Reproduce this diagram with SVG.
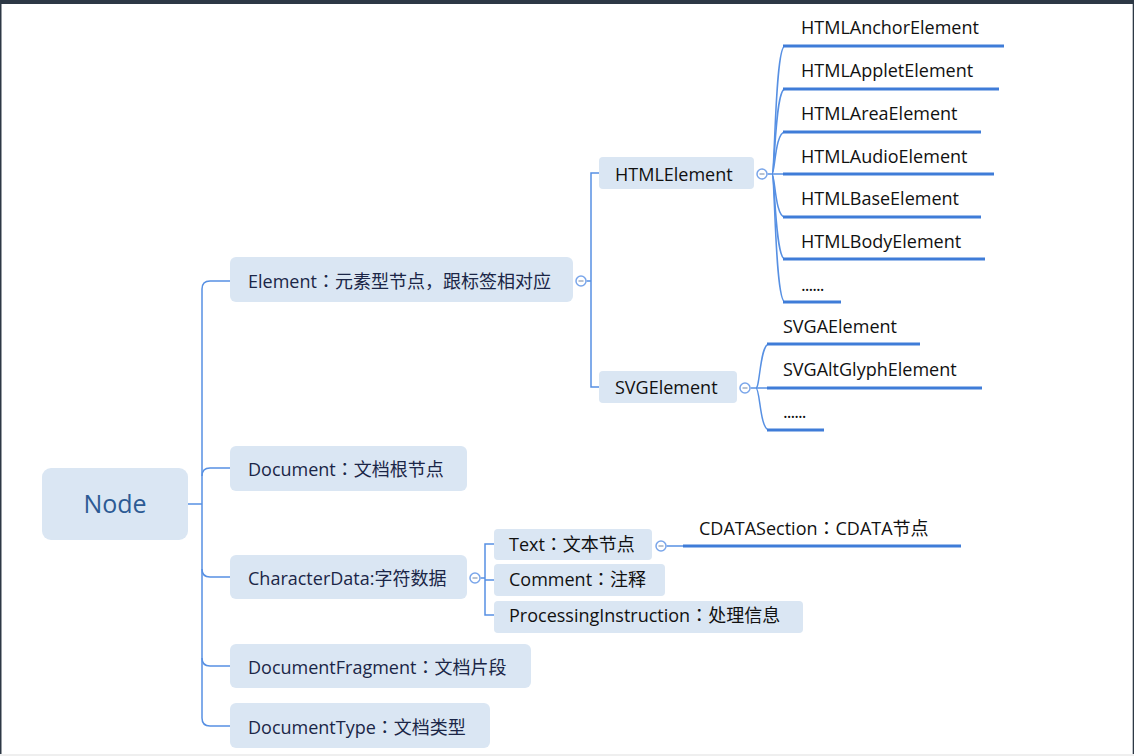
<svg xmlns="http://www.w3.org/2000/svg" width="1134" height="756" viewBox="0 0 1134 756">
<style>
.box{fill:#dae6f3}
.t{font-family:"Open Sans","Noto Sans CJK SC",sans-serif;font-size:18px;fill:#1b2647}
.c{font-family:"Open Sans","Noto Sans CJK SC",sans-serif;font-size:18px;fill:#111111}
.k{font-family:"Noto Sans CJK TC",sans-serif}
.ln{fill:none;stroke:#5790e3;stroke-width:1.5}
.ul{fill:none;stroke:#3f7cd8;stroke-width:3}
.col{fill:#fff;stroke:#7aa6ea;stroke-width:1.5}
.dash{stroke:#8a9bb3;stroke-width:1.2}
</style>
<rect x="0" y="0" width="1134" height="756" fill="#ffffff"/>
<rect x="0" y="0" width="1134" height="4" fill="#2d3845"/>
<rect x="0" y="0" width="1.5" height="756" fill="#2d3845"/>
<rect x="1132.7" y="0" width="1.3" height="756" fill="#2d3845"/>
<rect x="0" y="754" width="1134" height="2" fill="#efefef"/>

<g id="connectors">
  <path class="ln" d="M188,504 H202"/>
  <path class="ln" d="M230,281 H210 Q202,281 202,289 V718 Q202,726 210,726 H230"/>
  <path class="ln" d="M202,476 Q202,468 210,468 H230"/>
  <path class="ln" d="M202,569 Q202,577 210,577 H230"/>
  <path class="ln" d="M202,658 Q202,666 210,666 H230"/>
  <path class="ln" d="M586.5,281 H591 M599,173 H591 V387 H599"/>
  <path class="ln" d="M480.5,578 H485 M494,544 H485 V615 H494 M485,580 H494"/>
  <path class="ln" d="M767.5,174 H772"/>
  <path class="ln" d="M772,174 C775,174 775,46 785,46"/>
  <path class="ln" d="M772,174 C775,174 775,89 785,89"/>
  <path class="ln" d="M772,174 C775,174 775,132 785,132"/>
  <path class="ln" d="M772,174 H785"/>
  <path class="ln" d="M772,174 C775,174 775,217 785,217"/>
  <path class="ln" d="M772,174 C775,174 775,259 785,259"/>
  <path class="ln" d="M772,174 C775,174 775,302 785,302"/>
  <path class="ln" d="M750.5,388 H756"/>
  <path class="ln" d="M756,388 C760,388 760,344 769,344"/>
  <path class="ln" d="M756,388 H769"/>
  <path class="ln" d="M756,388 C760,388 760,430 769,430"/>
  <path class="ln" d="M666.5,546 H683"/>
</g>

<g id="node-root">
  <rect class="box" x="42" y="468" width="146" height="72" rx="9"/>
  <text x="115" y="513" text-anchor="middle" style="font-family:'Open Sans',sans-serif;font-size:25px;fill:#2c5a94">Node</text>
</g>

<g id="node-element">
  <rect class="box" x="230" y="257" width="343" height="45" rx="6"/>
  <text class="t" x="248" y="288">Element<tspan class="k">：</tspan>元素型节点，跟标签相对应</text>
  <circle class="col" cx="581" cy="281" r="5"/><line class="dash" x1="578.5" y1="281" x2="583.5" y2="281"/>
</g>
<g id="node-document">
  <rect class="box" x="230" y="446" width="237" height="45" rx="6"/>
  <text class="t" x="248" y="476">Document<tspan class="k">：</tspan>文档根节点</text>
</g>
<g id="node-characterdata">
  <rect class="box" x="230" y="555" width="237" height="44" rx="6"/>
  <text class="t" x="248" y="585">CharacterData:字符数据</text>
  <circle class="col" cx="475" cy="578" r="5"/><line class="dash" x1="472.5" y1="578" x2="477.5" y2="578"/>
</g>
<g id="node-documentfragment">
  <rect class="box" x="230" y="644" width="301" height="44" rx="6"/>
  <text class="t" x="248" y="674">DocumentFragment<tspan class="k">：</tspan>文档片段</text>
</g>
<g id="node-documenttype">
  <rect class="box" x="230" y="703" width="260" height="45" rx="6"/>
  <text class="t" x="248" y="734">DocumentType<tspan class="k">：</tspan>文档类型</text>
</g>

<g id="node-htmlelement">
  <rect class="box" x="599" y="157" width="155" height="32" rx="4"/>
  <text class="c" x="615" y="181">HTMLElement</text>
  <circle class="col" cx="762" cy="174" r="5"/><line class="dash" x1="759.5" y1="174" x2="764.5" y2="174"/>
</g>
<g id="node-svgelement">
  <rect class="box" x="599" y="371" width="138" height="32" rx="4"/>
  <text class="c" x="615" y="394">SVGElement</text>
  <circle class="col" cx="745" cy="388" r="5"/><line class="dash" x1="742.5" y1="388" x2="747.5" y2="388"/>
</g>

<g id="node-htmlanchor"><text class="c" x="801" y="34">HTMLAnchorElement</text><path class="ul" d="M783,46 H1004"/></g>
<g id="node-htmlapplet"><text class="c" x="801" y="77">HTMLAppletElement</text><path class="ul" d="M783,89 H999"/></g>
<g id="node-htmlarea"><text class="c" x="801" y="120">HTMLAreaElement</text><path class="ul" d="M783,132 H981"/></g>
<g id="node-htmlaudio"><text class="c" x="801" y="163">HTMLAudioElement</text><path class="ul" d="M783,174 H994"/></g>
<g id="node-htmlbase"><text class="c" x="801" y="205">HTMLBaseElement</text><path class="ul" d="M783,217 H981"/></g>
<g id="node-htmlbody"><text class="c" x="801" y="248">HTMLBodyElement</text><path class="ul" d="M783,259 H985"/></g>
<g id="node-htmlmore"><text class="c" x="801" y="291" style="letter-spacing:-1px">......</text><path class="ul" d="M783,302 H841"/></g>

<g id="node-svga"><text class="c" x="783" y="333">SVGAElement</text><path class="ul" d="M767,344 H920"/></g>
<g id="node-svgaltglyph"><text class="c" x="783" y="376">SVGAltGlyphElement</text><path class="ul" d="M767,388 H982"/></g>
<g id="node-svgmore"><text class="c" x="783" y="418" style="letter-spacing:-1px">......</text><path class="ul" d="M767,430 H824"/></g>

<g id="node-text">
  <rect class="box" x="494" y="529" width="158" height="31" rx="4"/>
  <text class="c" x="509" y="551">Text<tspan class="k">：</tspan>文本节点</text>
  <circle class="col" cx="661" cy="546" r="5"/><line class="dash" x1="658.5" y1="546" x2="663.5" y2="546"/>
</g>
<g id="node-comment">
  <rect class="box" x="494" y="564" width="171" height="32" rx="4"/>
  <text class="c" x="509" y="586">Comment<tspan class="k">：</tspan>注释</text>
</g>
<g id="node-processinginstruction">
  <rect class="box" x="494" y="601" width="309" height="32" rx="4"/>
  <text class="c" x="509" y="622">ProcessingInstruction<tspan class="k">：</tspan>处理信息</text>
</g>
<g id="node-cdata">
  <text class="c" x="699" y="535">CDATASection<tspan class="k">：</tspan>CDATA节点</text>
  <path class="ul" d="M683,546 H961"/>
</g>
</svg>
